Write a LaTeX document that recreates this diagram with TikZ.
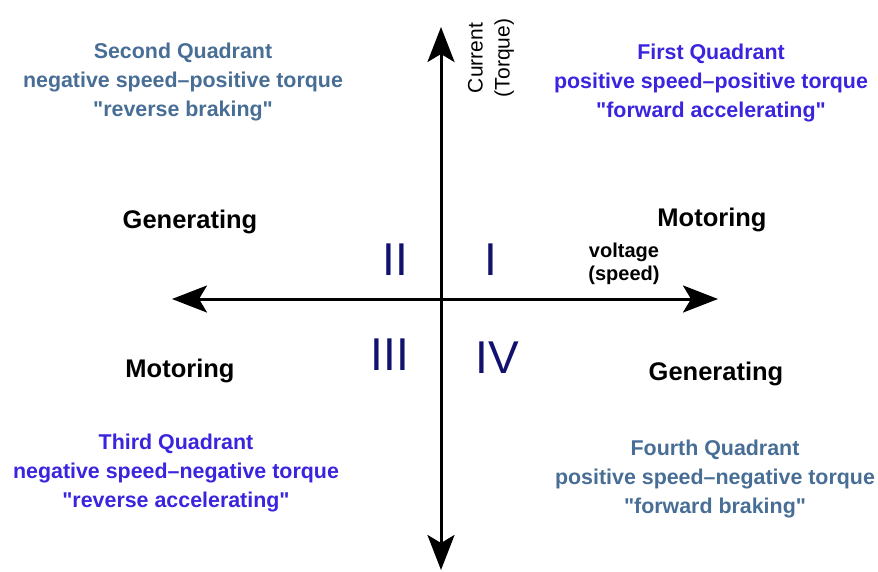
\documentclass[tikz,border=0pt]{standalone}
\usepackage{fontspec}
\setmainfont{Liberation Sans}[Ligatures=TeXOff]
\usetikzlibrary{arrows.meta}
\definecolor{quadviolet}{RGB}{58,36,222}
\definecolor{quadsteel}{RGB}{72,110,150}
\definecolor{numnavy}{RGB}{16,18,110}

\begin{document}
\begin{tikzpicture}[
  x=1pt, y=-1pt,
  quad/.style={align=center, font=\fontsize{21.4}{29}\selectfont\bfseries, inner sep=0pt},
  mode/.style={font=\fontsize{25.5}{28}\selectfont\bfseries, inner sep=0pt},
  numeral/.style={font=\fontsize{46}{46}\selectfont, text=numnavy, inner sep=0pt},
  axis/.style={line width=3pt, -{Stealth[length=35pt, width=27pt, inset=8pt]}}
]
\useasboundingbox (0,0) rectangle (878,571);
% axes
\coordinate (o) at (441,299);
\coordinate (left) at (172,299);
\coordinate (right) at (718,299);
\coordinate (top) at (441,27);
\coordinate (bottom) at (441,570);
\draw[axis] (o) -- (right);
\draw[axis] (o) -- (left);
\draw[axis] (o) -- (top);
\draw[axis] (o) -- (bottom);
% axis labels
\node[rotate=90, align=center, inner sep=0pt, font=\fontsize{21}{27}\selectfont] (current) at (491,58) {Current\\(Torque)};
\node[align=center, inner sep=0pt, font=\fontsize{20}{23}\selectfont\bfseries] (voltage) at (624,264) {voltage\\(speed)};
% quadrant texts
\node[quad, text=quadviolet] (q1) at (711,83) {First Quadrant\\positive speed–positive torque\\"forward accelerating"};
\node[quad, text=quadsteel] (q2) at (183,82) {Second Quadrant\\negative speed–positive torque\\"reverse braking"};
\node[quad, text=quadviolet] (q3) at (176,473) {Third Quadrant\\negative speed–negative torque\\"reverse accelerating"};
\node[quad, text=quadsteel] (q4) at (715,479) {Fourth Quadrant\\positive speed–negative torque\\"forward braking"};
% operating modes
\node[mode] (gen2) at (190,222) {Generating};
\node[mode] (mot1) at (712,220) {Motoring};
\node[mode] (mot3) at (180,371) {Motoring};
\node[mode] (gen4) at (716,374) {Generating};
% numerals
\node[numeral] (n2) at (395,260) {II};
\node[numeral] (n1) at (491,260) {I};
\node[numeral] (n3) at (390,355) {III};
\node[numeral] (n4) at (497,358) {IV};
\end{tikzpicture}
\end{document}
